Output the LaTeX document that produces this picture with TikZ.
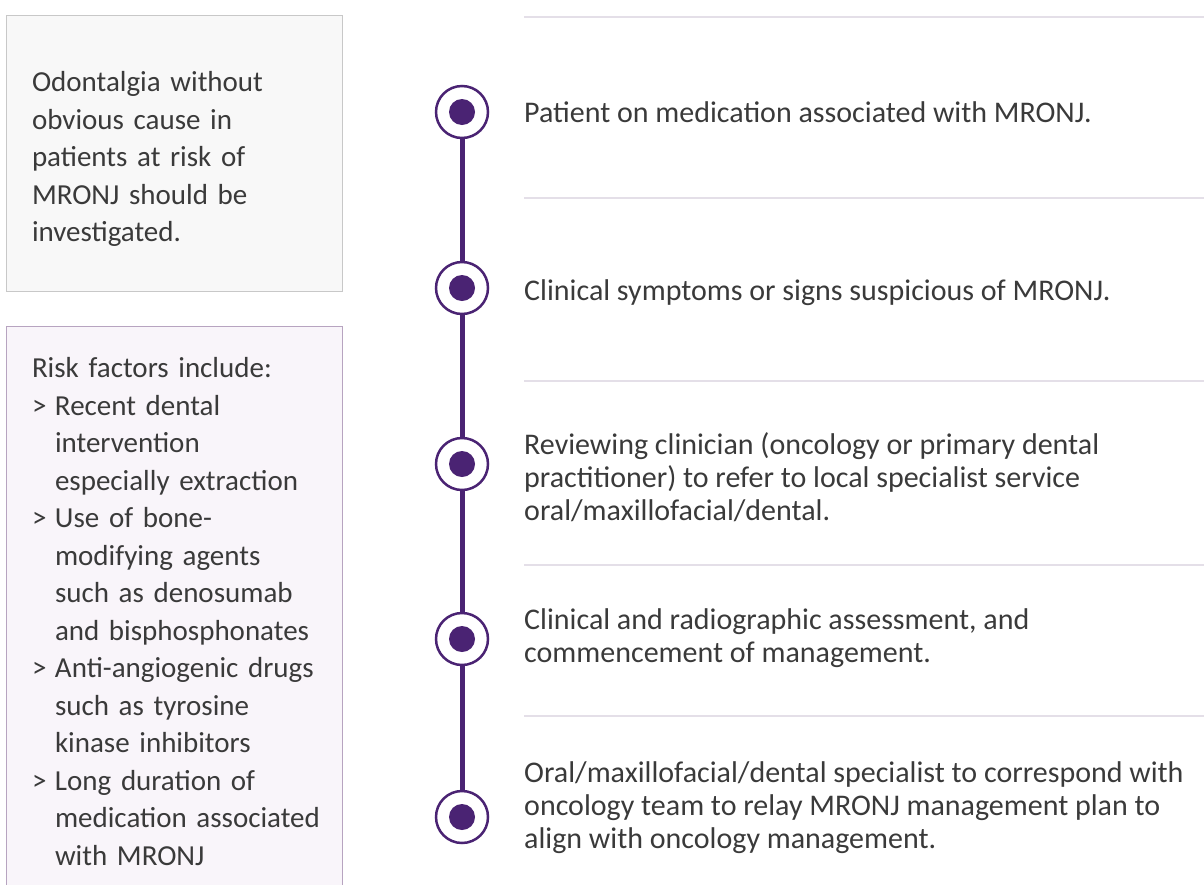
\documentclass[tikz,border=0pt]{standalone}
\usepackage{fontspec}
\setmainfont{Carlito}
\usetikzlibrary{positioning}
\definecolor{MedPurple}{HTML}{4A2373}
\definecolor{NoteFill}{HTML}{F8F8F8}
\definecolor{NoteEdge}{HTML}{C8C8C8}
\definecolor{RiskFill}{HTML}{F9F5FA}
\definecolor{RiskEdge}{HTML}{B7A4C0}
\definecolor{RuleGrey}{HTML}{E4DFE8}
\definecolor{TextGrey}{HTML}{3A3A3A}
\newcommand{\riskitem}{\makebox[23pt][l]{>}}
\newcommand{\riskcont}{\hspace*{23pt}}

\begin{document}
\begin{tikzpicture}[x=1pt,y=-1pt,
    ring/.style={circle,draw=MedPurple,line width=2.5pt,fill=white,minimum size=52pt,inner sep=0pt,
      path picture={\fill[MedPurple] (path picture bounding box.center) circle (13pt);}},
    steptext/.style={anchor=west,align=left,inner sep=0pt,text=TextGrey,font=\fontsize{30}{33}\selectfont},
    notebox/.style={draw=NoteEdge,fill=NoteFill,line width=1pt,text width=284pt,inner xsep=26pt,
      align=left,text=TextGrey,font=\fontsize{29}{37.5}\selectfont},
    spine/.style={draw=MedPurple,line width=5pt},
    rule/.style={draw=RuleGrey,line width=1.5pt}]
        \useasboundingbox (0,0) rectangle (1204,884);

        % Side notes
        \node[notebox,minimum height=276pt] (odonto) at (174,153) {\rule{0pt}{32pt}Odontalgia without\\obvious cause in\\patients at risk of\\MRONJ should be\\investigated.};
        \node[notebox,draw=RiskEdge,fill=RiskFill,minimum height=571pt] (risk) at (174,611.5) {Risk factors include:\\
          \riskitem Recent dental\\\riskcont intervention\\\riskcont\mbox{especially extraction}\\
          \riskitem Use of bone-\\\riskcont modifying agents\\\riskcont\mbox{such as denosumab}\\\riskcont\mbox{and bisphosphonates}\\
          \riskitem\mbox{Anti-angiogenic drugs}\\\riskcont such as tyrosine\\\riskcont kinase inhibitors\\
          \riskitem Long duration of\\\riskcont\mbox{medication associated}\\\riskcont with MRONJ};

        % Separator rules
        \draw[rule] (524,17) -- (1204,17);
        \draw[rule] (524,198) -- (1204,198);
        \draw[rule] (524,381) -- (1204,381);
        \draw[rule] (524,565) -- (1204,565);
        \draw[rule] (524,716) -- (1204,716);

        % Timeline markers
        \node[ring] (s1) at (462,112) {};
        \node[ring] (s2) at (462,288) {};
        \node[ring] (s3) at (462,464) {};
        \node[ring] (s4) at (462,639) {};
        \node[ring] (s5) at (462,817) {};
        \draw[spine] (s1) -- (s2);
        \draw[spine] (s2) -- (s3);
        \draw[spine] (s3) -- (s4);
        \draw[spine] (s4) -- (s5);

        % Steps
        \node[steptext] (t1) at (524,112) {Patient on medication associated with MRONJ.};
        \node[steptext] (t2) at (524,293) {Clinical symptoms or signs suspicious of MRONJ.};
        \node[steptext] (t3) at (524,477) {Reviewing clinician (oncology or primary dental\\practitioner) to refer to local specialist service\\oral/maxillofacial/dental.};
        \node[steptext] (t4) at (524,638.5) {Clinical and radiographic assessment, and\\commencement of management.};
        \node[steptext] (t5) at (524,808) {Oral/maxillofacial/dental specialist to correspond with\\oncology team to relay MRONJ management plan to\\align with oncology management.};
      \end{tikzpicture}
\end{document}
